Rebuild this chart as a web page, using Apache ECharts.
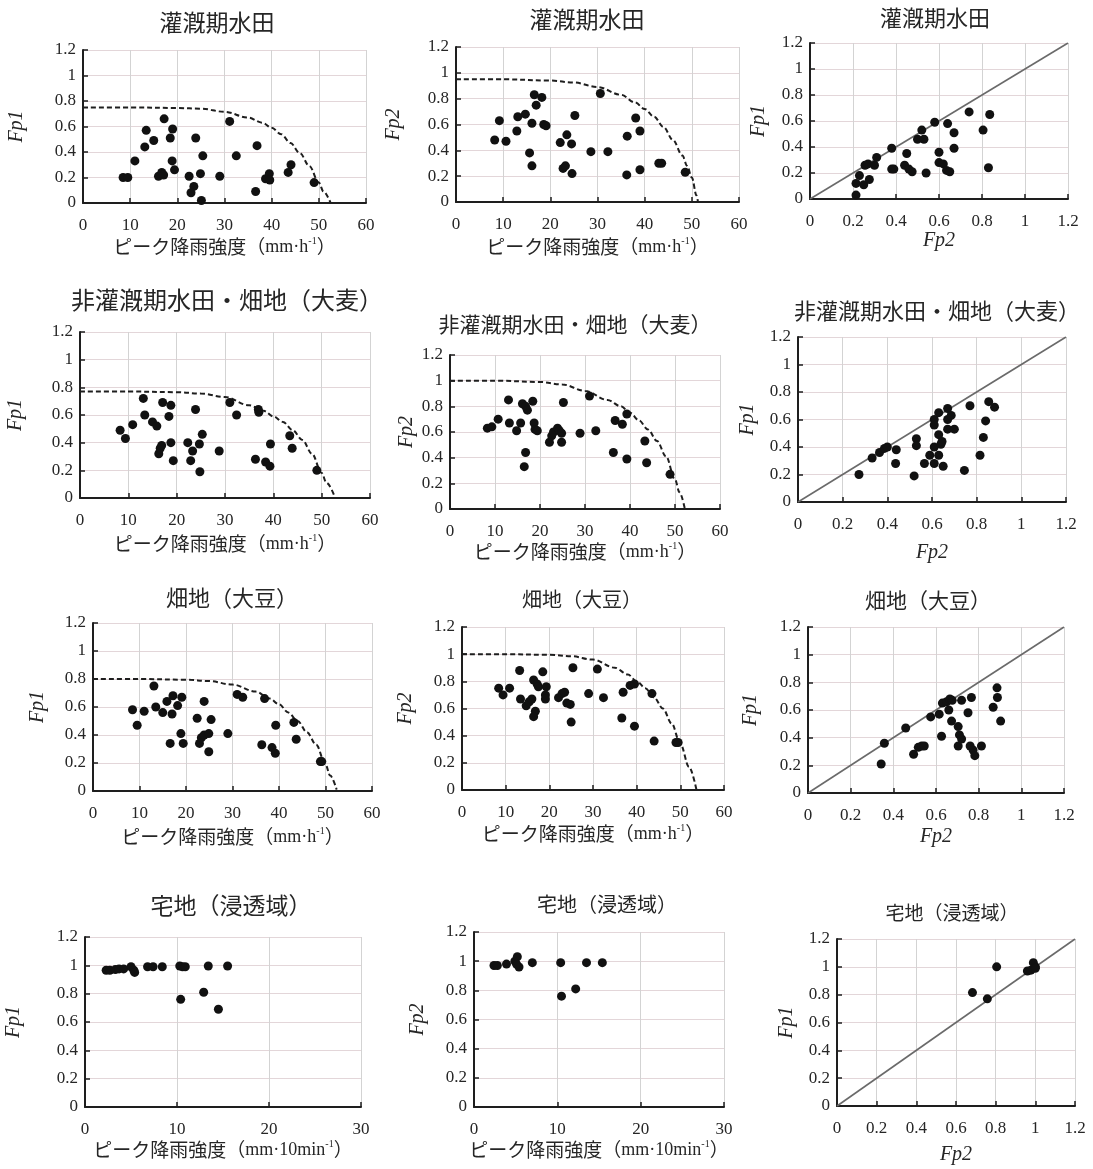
<!DOCTYPE html>
<html>
<head>
<meta charset="utf-8">
<script src="https://cdn.jsdelivr.net/npm/echarts@6/dist/echarts.min.js"></script>
<style>
  html, body { margin: 0; padding: 0; background: #ffffff; }
  #main { width: 1093px; height: 1169px; }
</style>
</head>
<body>
<div id="main"></div>
<script>
// ---- 灌漑期水田 ----
const irrFp1 = [[8.5,0.2],[9.5,0.2],[11,0.33],[13.4,0.57],[13.1,0.44],[15,0.49],[17.2,0.66],[16,0.21],[16.7,0.24],[17.1,0.22],[18.5,0.51],[19,0.58],[18.9,0.33],[19.4,0.26],[22.5,0.21],[23.9,0.51],[23.5,0.13],[22.9,0.08],[24.9,0.23],[25.4,0.37],[25.1,0.02],[29,0.21],[31.1,0.64],[32.5,0.37],[36.9,0.45],[36.6,0.09],[38.7,0.19],[39.5,0.23],[39.6,0.18],[43.5,0.24],[44.1,0.3],[49,0.16]];
const irrCurve1 = [[0,0.75],[10,0.75],[20,0.745],[25,0.74],[30,0.715],[35,0.67],[38,0.63],[40,0.59],[42,0.54],[44,0.47],[46,0.39],[48,0.29],[50,0.16],[51,0.09],[52.5,0]];
const irrFp2 = [[8.2,0.48],[9.2,0.63],[10.6,0.47],[12.9,0.55],[13.1,0.66],[14.7,0.68],[15.6,0.38],[16.1,0.61],[16.1,0.28],[16.6,0.83],[17,0.75],[18.2,0.81],[18.6,0.6],[19.1,0.59],[22.1,0.46],[22.7,0.26],[23.2,0.28],[23.5,0.52],[24.5,0.45],[24.6,0.22],[25.2,0.67],[28.6,0.39],[30.6,0.84],[32.2,0.39],[36.3,0.51],[36.2,0.21],[38.1,0.65],[39,0.55],[39,0.25],[43,0.3],[43.6,0.3],[48.6,0.23]];
const irrCurve2 = [[0,0.95],[10,0.95],[20,0.94],[25,0.925],[30,0.89],[35,0.83],[38,0.77],[40,0.72],[42,0.66],[44,0.58],[46,0.48],[48,0.36],[49,0.28],[50,0.19],[51,0.05],[51.3,0]];
const irrFp2Fp1 = [[0.214,0.03],[0.214,0.12],[0.23,0.18],[0.25,0.11],[0.276,0.15],[0.256,0.26],[0.27,0.27],[0.3,0.26],[0.31,0.32],[0.38,0.39],[0.38,0.23],[0.39,0.23],[0.45,0.35],[0.44,0.26],[0.46,0.23],[0.475,0.21],[0.5,0.46],[0.52,0.53],[0.53,0.46],[0.54,0.2],[0.58,0.59],[0.6,0.36],[0.6,0.28],[0.62,0.27],[0.635,0.22],[0.65,0.21],[0.64,0.58],[0.67,0.39],[0.67,0.51],[0.74,0.67],[0.805,0.53],[0.836,0.65],[0.83,0.24]];

// ---- 非灌漑期水田・畑地（大麦） ----
const barleyFp1 = [[8.3,0.49],[9.4,0.43],[10.9,0.53],[13.1,0.72],[13.4,0.6],[15,0.55],[15.9,0.52],[17.1,0.69],[18.8,0.67],[18.4,0.59],[16.3,0.32],[16.6,0.36],[16.9,0.38],[18.8,0.4],[19.3,0.27],[22.3,0.4],[23.3,0.34],[22.9,0.27],[23.9,0.64],[24.7,0.39],[25.3,0.46],[24.8,0.19],[28.8,0.34],[31,0.69],[32.4,0.6],[36.9,0.64],[37,0.62],[36.3,0.28],[38.4,0.26],[39.3,0.23],[39.4,0.39],[43.4,0.45],[43.9,0.36],[49,0.2]];
const barleyCurve1 = [[0,0.77],[10,0.77],[20,0.765],[25,0.755],[30,0.73],[35,0.67],[38,0.63],[40,0.59],[42,0.55],[44,0.49],[46,0.42],[48,0.32],[50,0.18],[51,0.11],[52.8,0]];
const barleyFp2 = [[8.3,0.63],[9.3,0.64],[10.7,0.7],[13,0.85],[13.2,0.67],[14.8,0.61],[15.7,0.67],[16.1,0.82],[16.8,0.8],[17.2,0.77],[16.5,0.33],[16.8,0.44],[18.4,0.84],[18.7,0.67],[18.9,0.62],[19.4,0.61],[22.1,0.52],[22.6,0.57],[23,0.6],[23.9,0.63],[24.3,0.61],[24.8,0.59],[24.8,0.52],[25.2,0.83],[28.9,0.59],[31,0.88],[32.4,0.61],[36.3,0.44],[36.7,0.69],[38.3,0.66],[39.3,0.74],[39.3,0.39],[43.3,0.53],[43.7,0.36],[48.9,0.27]];
const barleyCurve2 = [[0,1],[10,1],[20,0.99],[25,0.97],[30,0.92],[35,0.85],[38,0.8],[40,0.75],[42,0.69],[44,0.62],[46,0.53],[48,0.41],[50,0.23],[51,0.13],[52.2,0]];
const barleyFp2Fp1 = [[0.273,0.2],[0.332,0.32],[0.365,0.36],[0.387,0.39],[0.4,0.4],[0.44,0.38],[0.437,0.28],[0.52,0.19],[0.53,0.46],[0.53,0.41],[0.566,0.28],[0.59,0.34],[0.61,0.56],[0.61,0.6],[0.61,0.4],[0.61,0.28],[0.63,0.65],[0.63,0.49],[0.63,0.34],[0.64,0.42],[0.645,0.44],[0.65,0.26],[0.67,0.68],[0.67,0.6],[0.67,0.53],[0.686,0.63],[0.7,0.53],[0.77,0.7],[0.745,0.23],[0.815,0.34],[0.83,0.47],[0.84,0.59],[0.854,0.73],[0.88,0.69]];

// ---- 畑地（大豆） ----
const soyFp1 = [[8.5,0.58],[9.5,0.47],[11,0.57],[13.1,0.75],[13.5,0.6],[15,0.56],[15.9,0.64],[16.6,0.34],[17,0.55],[17.2,0.68],[18.2,0.61],[19.1,0.67],[18.9,0.41],[19.4,0.34],[22.4,0.52],[22.9,0.34],[23.3,0.38],[23.9,0.64],[23.9,0.4],[24.9,0.41],[25.4,0.51],[24.9,0.28],[29,0.41],[31,0.69],[32.2,0.67],[36.3,0.33],[36.9,0.66],[38.5,0.31],[39.2,0.27],[39.3,0.47],[43.2,0.49],[43.7,0.37],[48.9,0.21],[49.2,0.21]];
const soyCurve1 = [[0,0.8],[10,0.8],[20,0.795],[25,0.785],[30,0.76],[35,0.71],[38,0.66],[40,0.62],[42,0.56],[44,0.5],[46,0.42],[48,0.33],[50,0.19],[51,0.11],[52.4,0.01]];
const soyFp2 = [[8.4,0.75],[9.4,0.7],[10.9,0.75],[13.2,0.88],[13.4,0.67],[14.7,0.62],[15.4,0.65],[16,0.67],[16.4,0.81],[16.8,0.58],[16.4,0.54],[17.2,0.78],[17.5,0.76],[18.5,0.87],[19.3,0.76],[19.1,0.7],[19.1,0.67],[22.1,0.68],[22.9,0.71],[23.5,0.72],[24,0.64],[24.8,0.63],[25,0.5],[25.4,0.9],[29,0.71],[31,0.89],[32.4,0.68],[36.6,0.53],[36.9,0.72],[38.5,0.77],[39.5,0.78],[39.5,0.47],[43.5,0.71],[44,0.36],[49,0.35],[49.5,0.35]];
const soyCurve2 = [[0,1],[10,1],[20,0.995],[25,0.985],[30,0.96],[35,0.9],[38,0.85],[40,0.8],[42,0.75],[44,0.68],[46,0.6],[48,0.49],[50,0.34],[52,0.17],[53.7,0]];
const soyFp2Fp1 = [[0.343,0.21],[0.358,0.36],[0.458,0.47],[0.495,0.28],[0.517,0.33],[0.533,0.34],[0.545,0.34],[0.575,0.55],[0.615,0.57],[0.63,0.65],[0.626,0.41],[0.65,0.66],[0.66,0.6],[0.665,0.68],[0.676,0.67],[0.673,0.52],[0.704,0.48],[0.704,0.34],[0.71,0.42],[0.72,0.39],[0.72,0.67],[0.75,0.58],[0.766,0.69],[0.76,0.34],[0.774,0.31],[0.782,0.27],[0.813,0.34],[0.868,0.62],[0.886,0.76],[0.888,0.69],[0.903,0.52]];

// ---- 宅地（浸透域） ----
const resFp1 = [[2.3,0.965],[2.7,0.965],[3.3,0.97],[3.7,0.975],[4.2,0.975],[5,0.99],[5.3,0.965],[5.4,0.95],[6.8,0.99],[7.4,0.99],[8.4,0.99],[10.3,0.995],[10.6,0.99],[10.9,0.99],[13.4,0.995],[15.5,0.995],[10.4,0.76],[12.9,0.81],[14.5,0.69]];
const resFp2 = [[2.4,0.97],[2.8,0.97],[3.9,0.98],[4.9,1.0],[5.2,1.03],[5.4,0.96],[5.1,0.98],[7,0.99],[10.4,0.99],[13.5,0.99],[15.4,0.99],[10.5,0.76],[12.2,0.81]];
const resFp2Fp1 = [[0.683,0.815],[0.758,0.77],[0.805,1.0],[0.96,0.97],[0.978,0.976],[0.99,1.03],[1.0,1.0],[1.0,0.99]];

// 1:1 reference line
const oneToOne = [[0, 0], [1.2, 1.2]];

// axis tick settings
const rainTicks60 = { max: 60, interval: 10 };
const rainTicks30 = { max: 30, interval: 10 };
const fpTicks = { max: 1.2, interval: 0.2 };

const SERIF = "'Liberation Serif', 'DejaVu Serif', serif";
const JP = "'Noto Sans CJK JP', sans-serif";
const INK = '#262626';

const nameHour = '{a|ピーク降雨強度（}{b|mm·h}{c|-1}{a|）}';
const nameTenMin = '{a|ピーク降雨強度（}{b|mm·10min}{c|-1}{a|）}';

// panel layout: grid = [left, top, width, height]
const panels = [
  { title: '灌漑期水田', tfs: 23, tx: 217, ty: 25, grid: [83, 50, 283, 153], x: rainTicks60, xName: nameHour, yName: 'Fp1', yGap: 56, xGap: 33, pts: irrFp1, curve: irrCurve1 },
  { title: '灌漑期水田', tfs: 23, tx: 587, ty: 22, grid: [456, 47, 283, 155], x: rainTicks60, xName: nameHour, yName: 'Fp2', yGap: 52, xGap: 34, pts: irrFp2, curve: irrCurve2 },
  { title: '灌漑期水田', tfs: 22, tx: 935, ty: 20, grid: [810, 43, 258, 156], x: fpTicks, xName: 'Fp2', yName: 'Fp1', yGap: 41, xGap: 29, pts: irrFp2Fp1, diag: true },
  { title: '非灌漑期水田・畑地（大麦）', tfs: 24, tx: 227, ty: 303, grid: [80, 332, 290, 166], x: rainTicks60, xName: nameHour, yName: 'Fp1', yGap: 54, xGap: 35, pts: barleyFp1, curve: barleyCurve1 },
  { title: '非灌漑期水田・畑地（大麦）', tfs: 21, tx: 575, ty: 327, grid: [450, 355, 270, 154], x: rainTicks60, xName: nameHour, yName: 'Fp2', yGap: 33, xGap: 31, pts: barleyFp2, curve: barleyCurve2 },
  { title: '非灌漑期水田・畑地（大麦）', tfs: 22, tx: 937, ty: 313, grid: [798, 337, 268, 165], x: fpTicks, xName: 'Fp2', yName: 'Fp1', yGap: 40, xGap: 41, pts: barleyFp2Fp1, diag: true },
  { title: '畑地（大豆）', tfs: 22, tx: 232, ty: 600, grid: [93, 623, 279, 168], x: rainTicks60, xName: nameHour, yName: 'Fp1', yGap: 45, xGap: 35, pts: soyFp1, curve: soyCurve1 },
  { title: '畑地（大豆）', tfs: 20, tx: 582, ty: 602, grid: [462, 627, 262, 163], x: rainTicks60, xName: nameHour, yName: 'Fp2', yGap: 46, xGap: 33, pts: soyFp2, curve: soyCurve2 },
  { title: '畑地（大豆）', tfs: 21, tx: 928, ty: 603, grid: [808, 627, 256, 166], x: fpTicks, xName: 'Fp2', yName: 'Fp1', yGap: 47, xGap: 34, pts: soyFp2Fp1, diag: true },
  { title: '宅地（浸透域）', tfs: 23, tx: 231, ty: 908, grid: [85, 937, 276, 170], x: rainTicks30, xName: nameTenMin, yName: 'Fp1', yGap: 61, xGap: 29, pts: resFp1 },
  { title: '宅地（浸透域）', tfs: 20, tx: 607, ty: 907, grid: [474, 932, 250, 175], x: rainTicks30, xName: nameTenMin, yName: 'Fp2', yGap: 46, xGap: 32, pts: resFp2 },
  { title: '宅地（浸透域）', tfs: 19, tx: 952, ty: 915, grid: [837, 939, 238, 167], x: fpTicks, xName: 'Fp2', yName: 'Fp1', yGap: 40, xGap: 39, pts: resFp2Fp1, diag: true }
];

const axisLine = { show: true, onZero: false, lineStyle: { color: '#1e1e1e', width: 2 } };
const axisTick = { show: true, inside: true, length: 5, lineStyle: { color: '#1e1e1e', width: 1.5 } };
const tickLabel = { fontFamily: SERIF, fontSize: 17, color: INK };
const italicName = { fontFamily: SERIF, fontStyle: 'italic', fontSize: 20, color: INK };
const richName = {
  rich: {
    a: { fontFamily: JP, fontSize: 19, color: INK, lineHeight: 22 },
    b: { fontFamily: SERIF, fontSize: 18, color: INK, lineHeight: 22 },
    c: { fontFamily: SERIF, fontSize: 10, color: INK, verticalAlign: 'top', lineHeight: 14 }
  }
};

const option = {
  backgroundColor: '#ffffff',
  animation: false,
  title: [], grid: [], xAxis: [], yAxis: [], series: []
};

panels.forEach((p, i) => {
  option.title.push({
    text: p.title, left: p.tx, top: p.ty - p.tfs * 0.62, textAlign: 'center', padding: 0,
    textStyle: { fontFamily: JP, fontSize: p.tfs, fontWeight: 'normal', color: INK }
  });
  option.grid.push({ left: p.grid[0], top: p.grid[1], width: p.grid[2], height: p.grid[3], containLabel: false });
  const ratioX = p.xName === 'Fp2';
  option.xAxis.push({
    gridIndex: i, type: 'value', min: 0, max: p.x.max, interval: p.x.interval,
    name: p.xName, nameLocation: 'middle', nameGap: p.xGap,
    nameTextStyle: ratioX ? italicName : richName,
    axisLine, axisTick,
    axisLabel: Object.assign({ margin: 14 }, tickLabel),
    splitLine: { show: true, lineStyle: { color: '#d3d3d3', width: 1 } }
  });
  option.yAxis.push({
    gridIndex: i, type: 'value', min: 0, max: 1.2, interval: 0.2,
    name: p.yName, nameLocation: 'middle', nameGap: p.yGap, nameTextStyle: italicName,
    axisLine, axisTick,
    axisLabel: Object.assign({ margin: 7 }, tickLabel),
    splitLine: { show: true, lineStyle: { color: '#e3d6d9', width: 1 } }
  });
  if (p.curve) {
    option.series.push({
      type: 'line', xAxisIndex: i, yAxisIndex: i, data: p.curve, showSymbol: false, symbol: 'none',
      smooth: 0.35, smoothMonotone: 'x', silent: true, z: 2,
      lineStyle: { color: '#1e1e1e', width: 2, type: [5, 3] }
    });
  }
  if (p.diag) {
    option.series.push({
      type: 'line', xAxisIndex: i, yAxisIndex: i, data: oneToOne, showSymbol: false, symbol: 'none',
      silent: true, z: 2, lineStyle: { color: '#6a6a6a', width: 1.6 }
    });
  }
  option.series.push({
    type: 'scatter', xAxisIndex: i, yAxisIndex: i, data: p.pts, symbol: 'circle', symbolSize: 9,
    z: 3, itemStyle: { color: '#111111', opacity: 1 }
  });
});

const chart = echarts.init(document.getElementById('main'), null, { renderer: 'canvas' });
chart.setOption(option);
</script>
</body>
</html>
